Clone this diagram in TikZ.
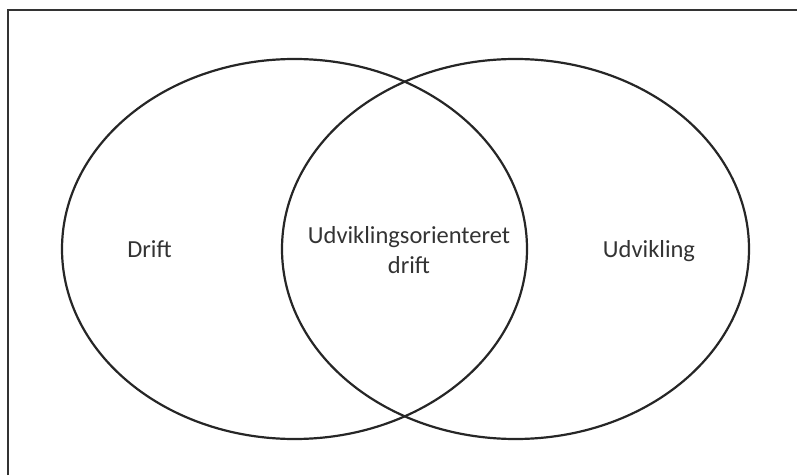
\documentclass[tikz,border=0pt]{standalone}
\usepackage{fontspec}
\setmainfont{Carlito}
\begin{document}
\begin{tikzpicture}[x=1pt,y=1pt,
  ring/.style={line width=2.2pt, draw=black!85},
  frame/.style={line width=2pt, draw=black!80},
  lbl/.style={text=black!80, font=\fontsize{24.5}{30}\selectfont, inner sep=0pt, align=center}]
\useasboundingbox (0,0) rectangle (797,475);
\draw[frame] (7.5,0) -- (7.5,464.5) -- (797,464.5);
\draw[ring] (294.5,226) ellipse [x radius=232.5, y radius=190];
\draw[ring] (515.5,226) ellipse [x radius=233.5, y radius=190];
\node[lbl, anchor=base] (drift) at (149.5,218) {Drift};
\node[lbl, anchor=base] (udv) at (649,218) {Udvikling};
\node[lbl, anchor=base] (mid) at (409,202) {Udviklingsorienteret\\drift};
\end{tikzpicture}
\end{document}
